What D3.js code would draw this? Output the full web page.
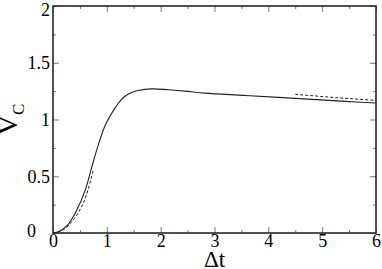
<!DOCTYPE html>
<html>
<head>
<meta charset="utf-8">
<script src="https://cdn.jsdelivr.net/npm/d3@7"></script>
<style>
  body { margin: 0; background: #fff; }
  svg { display: block; }
</style>
</head>
<body>
<svg id="chart" width="382" height="269"></svg>
<script>
// courbe pleine
const solidT = [0, 0.1, 0.2, 0.29, 0.44, 0.6, 0.72, 0.85, 0.97, 1.06, 1.15, 1.25, 1.34, 1.45, 1.58, 1.83, 2.14, 2.45, 2.83, 3.57, 4.5, 5.43, 6];
const solidV = [0, 0.01, 0.04, 0.08, 0.2, 0.38, 0.58, 0.79, 0.95, 1.03, 1.10, 1.165, 1.205, 1.235, 1.255, 1.27, 1.262, 1.25, 1.232, 1.212, 1.186, 1.16, 1.145];
// asymptote temps court
const shortT = [0, 0.2, 0.4, 0.55, 0.65, 0.75];
const shortV = [0, 0.03, 0.13, 0.25, 0.38, 0.56];
// asymptote temps long
const longT = [4.5, 5.25, 6];
const longV = [1.222, 1.193, 1.168];
// graduations
const xTicks = [0, 1, 2, 3, 4, 5, 6];
const xMinor = [0.5, 1.5, 2.5, 3.5, 4.5, 5.5];
const yTicks = [0, 0.5, 1, 1.5, 2];
const yMinor = [0.25, 0.75, 1.25, 1.75];

const FONT = '"Liberation Serif"';
const L = 53, R = 376, T = 6, B = 233;
const svg = d3.select('#chart');
const x = d3.scaleLinear().domain([0, 6]).range([L, R]);
const y = d3.scaleLinear().domain([0, 2]).range([B, T]);

const fmt = d => d3.format('')(d);

// axes (ticks vers l'intérieur, sur les 4 côtés)
function axes(gen, pos, values, size, labels){
    const g = svg.append('g').attr('transform', pos)
        .call(gen.tickValues(values).tickSize(size).tickPadding(6)
                 .tickFormat(labels ? fmt : ''));
    g.select('.domain').remove();
    g.selectAll('.tick line').attr('stroke', '#777').attr('stroke-width', 1);
    g.selectAll('.tick text').style('font-family', FONT).style('font-size', '18px');
    return g;
}
const gx = axes(d3.axisBottom(x), `translate(0,${B})`, xTicks, -6, true);
axes(d3.axisBottom(x), `translate(0,${B})`, xMinor, -3, false);
axes(d3.axisTop(x), `translate(0,${T})`, xTicks, -6, false);
axes(d3.axisTop(x), `translate(0,${T})`, xMinor, -3, false);
const gy = axes(d3.axisLeft(y), `translate(${L},0)`, yTicks, -6, true);
axes(d3.axisLeft(y), `translate(${L},0)`, yMinor, -3, false);
axes(d3.axisRight(y), `translate(${R},0)`, yTicks, -6, false);
axes(d3.axisRight(y), `translate(${R},0)`, yMinor, -3, false);

gx.selectAll('.tick text').attr('y', 1).attr('dy', '0.71em');
gy.selectAll('.tick text').attr('x', -3);
// positions particulières comme sur l'original
gy.selectAll('.tick').filter(d => d === 0).select('text').attr('dx', -14).attr('dy', '0.2em');
gy.selectAll('.tick').filter(d => d === 2).select('text').attr('dy', '0.55em');

// cadre
svg.append('rect')
    .attr('x', L).attr('y', T).attr('width', R - L).attr('height', B - T)
    .attr('fill', 'none').attr('stroke', '#333').attr('stroke-width', 1.7);

// courbes
const line = d3.line().x(d => x(d[0])).y(d => y(d[1])).curve(d3.curveCatmullRom.alpha(0.5));
svg.append('path').datum(d3.zip(solidT, solidV))
    .attr('d', line).attr('fill', 'none').attr('stroke', '#222').attr('stroke-width', 1.1);
svg.append('path').datum(d3.zip(shortT, shortV))
    .attr('d', line).attr('fill', 'none').attr('stroke', '#222').attr('stroke-width', 1)
    .attr('stroke-dasharray', '3,2');
svg.append('path').datum(d3.zip(longT, longV))
    .attr('d', line).attr('fill', 'none').attr('stroke', '#222').attr('stroke-width', 1)
    .attr('stroke-dasharray', '3,2');

// titres des axes
svg.append('text')
    .attr('x', x(3)).attr('y', 267)
    .attr('text-anchor', 'middle')
    .style('font-family', FONT).style('font-size', '23px')
    .text('Δt');

const yl = svg.append('text')
    .attr('transform', `translate(17,${(T + B) / 2}) rotate(-90)`)
    .attr('text-anchor', 'middle')
    .style('font-family', FONT).style('font-size', '28px');
yl.append('tspan').text('V');
yl.append('tspan').style('font-size', '17px').attr('dy', 7).text('C');
</script>
</body>
</html>
